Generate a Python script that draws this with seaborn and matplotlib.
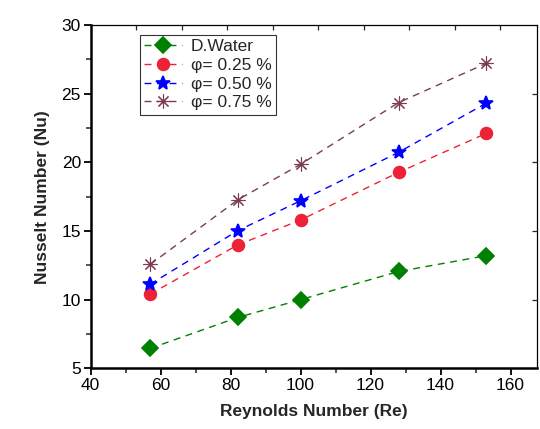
import seaborn as sns
import matplotlib.pyplot as plt
import pandas as pd
from matplotlib.ticker import MultipleLocator, FixedLocator

# data
re = [57, 82, 100, 128, 153]
nu_water = [6.45, 8.7, 10.0, 12.05, 13.2]
nu_025 = [10.4, 13.98, 15.8, 19.27, 22.1]
nu_050 = [11.12, 15.02, 17.2, 20.73, 24.3]
nu_075 = [12.57, 17.26, 19.86, 24.35, 27.2]
labels = ["D.Water", "φ= 0.25 %", "φ= 0.50 %", "φ= 0.75 %"]

rows = []
for lab, vals in zip(labels, [nu_water, nu_025, nu_050, nu_075]):
    for x, y in zip(re, vals):
        rows.append({"Re": x, "Nu": y, "series": lab})
df = pd.DataFrame(rows)

sns.set_style("white")
plt.rcParams['font.family'] = ['Liberation Sans', 'DejaVu Sans']

colors = ["#008000", "#ee2236", "#0000ff", "#7b3b55"]
markers = ["D", "o", "*", (8, 2, 0)]
sizes = [8, 8.5, 10.5, 10]
edge_w = [1.2, 1.2, 1.2, 0.8]

fig = plt.figure(figsize=(5.4, 4.29), dpi=100)
ax = fig.add_axes([0.168, 0.1415, 0.826, 0.8002])

for lab, c, m, s, ew in zip(labels, colors, markers, sizes, edge_w):
    sns.lineplot(data=df[df["series"] == lab], x="Re", y="Nu", ax=ax,
                 color=c, marker=m, markersize=s, linestyle=(0, (5, 4)),
                 linewidth=1.0, markeredgecolor=c, markeredgewidth=ew,
                 label=lab)

ax.set_xlim(40, 167.5)
ax.set_ylim(5, 30)
ax.xaxis.set_major_locator(MultipleLocator(20))
ax.xaxis.set_minor_locator(MultipleLocator(10))
ax.yaxis.set_major_locator(MultipleLocator(5))
ax.yaxis.set_minor_locator(MultipleLocator(2.5))
ax.tick_params(which="major", direction="out", length=5, width=1.3,
               labelsize=12.5, colors="black", bottom=True, left=True, pad=2)
ax.tick_params(which="minor", direction="out", length=3.5, width=1.1,
               bottom=True, left=True)

for side in ["left", "bottom"]:
    ax.spines[side].set_linewidth(1.8)
for side in ["top", "right"]:
    ax.spines[side].set_linewidth(0.9)
for sp in ax.spines.values():
    sp.set_color("black")

# inward ticks on top and right edges
ax_top = ax.twiny()
ax_top.set_xlim(ax.get_xlim())
ax_top.xaxis.set_major_locator(FixedLocator([53 + 13 * k for k in range(9)]))
ax_top.tick_params(axis="x", direction="in", length=3.5, width=0.9,
                   labeltop=False, top=True)
ax_right = ax.twinx()
ax_right.set_ylim(ax.get_ylim())
ax_right.yaxis.set_major_locator(FixedLocator([10, 15, 20, 25]))
ax_right.tick_params(axis="y", direction="in", length=3.5, width=0.9,
                     labelright=False, right=True)
for a in (ax_top, ax_right):
    for sp in a.spines.values():
        sp.set_visible(False)

ax.set_xlabel("Reynolds Number (Re)", fontsize=12.5, fontweight="bold", labelpad=8)
ax.set_ylabel("Nusselt Number (Nu)", fontsize=12.5, fontweight="bold", labelpad=8)

leg = ax.legend(loc="upper left", bbox_to_anchor=(0.11, 0.971), borderaxespad=0,
                fontsize=12.5, frameon=True, fancybox=False, edgecolor="black",
                handlelength=2.2, handletextpad=0.5, labelspacing=0.2,
                borderpad=0.25, numpoints=1)
leg.get_frame().set_linewidth(0.8)

fig.savefig("out.png", dpi=100)
